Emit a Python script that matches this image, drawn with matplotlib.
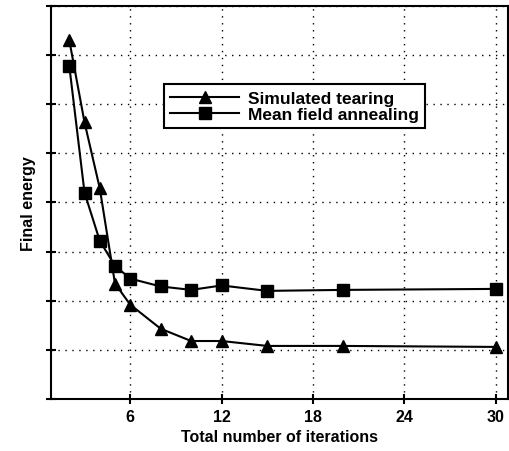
import matplotlib
matplotlib.use("Agg")
from matplotlib import pyplot as plt

# iterations and final energy
iterations = [2, 3, 4, 5, 6, 8, 10, 12, 15, 20, 30]
tearing = [7.3, 5.63, 4.29, 2.35, 1.92, 1.43, 1.18, 1.18, 1.08, 1.08, 1.06]
annealing = [6.78, 4.2, 3.22, 2.71, 2.45, 2.29, 2.22, 2.31, 2.2, 2.22, 2.24]
xticks = [6, 12, 18, 24, 30]

plt.rcParams['font.family'] = ['Liberation Sans', 'DejaVu Sans']

fig = plt.figure(figsize=(5.1, 4.52), dpi=100)
ax = fig.add_axes([0.1, 0.115, 0.896, 0.87])

ax.plot(iterations, tearing, color='black', lw=1.5, marker='^', ms=9,
        label='Simulated tearing')
ax.plot(iterations, annealing, color='black', lw=1.5, marker='s', ms=9,
        label='Mean field annealing')

ax.set_xlim(0.8, 30.8)
ax.set_ylim(0, 8)
ax.set_xticks(xticks)
ax.set_yticks(range(0, 9))
ax.set_yticklabels([])
ax.tick_params(direction='inout', length=7, width=1.5, labelsize=11.5)
for lab in ax.get_xticklabels():
    lab.set_fontweight('bold')
ax.grid(True, color='black', linestyle=(0, (1, 4)), lw=1)
for sp in ax.spines.values():
    sp.set_linewidth(1.5)

ax.set_xlabel('Total number of iterations', fontsize=11.5, fontweight='bold')
ax.set_ylabel('Final energy', fontsize=11.5, fontweight='bold')

leg = ax.legend(loc='upper left', bbox_to_anchor=(0.228, 0.822), fancybox=False,
                framealpha=1, edgecolor='black', borderpad=0.35, handlelength=4.0,
                handletextpad=0.5, labelspacing=0.05,
                prop={'size': 12.5, 'weight': 'bold'})
leg.get_frame().set_linewidth(1.5)

fig.savefig('out.png', dpi=100)
